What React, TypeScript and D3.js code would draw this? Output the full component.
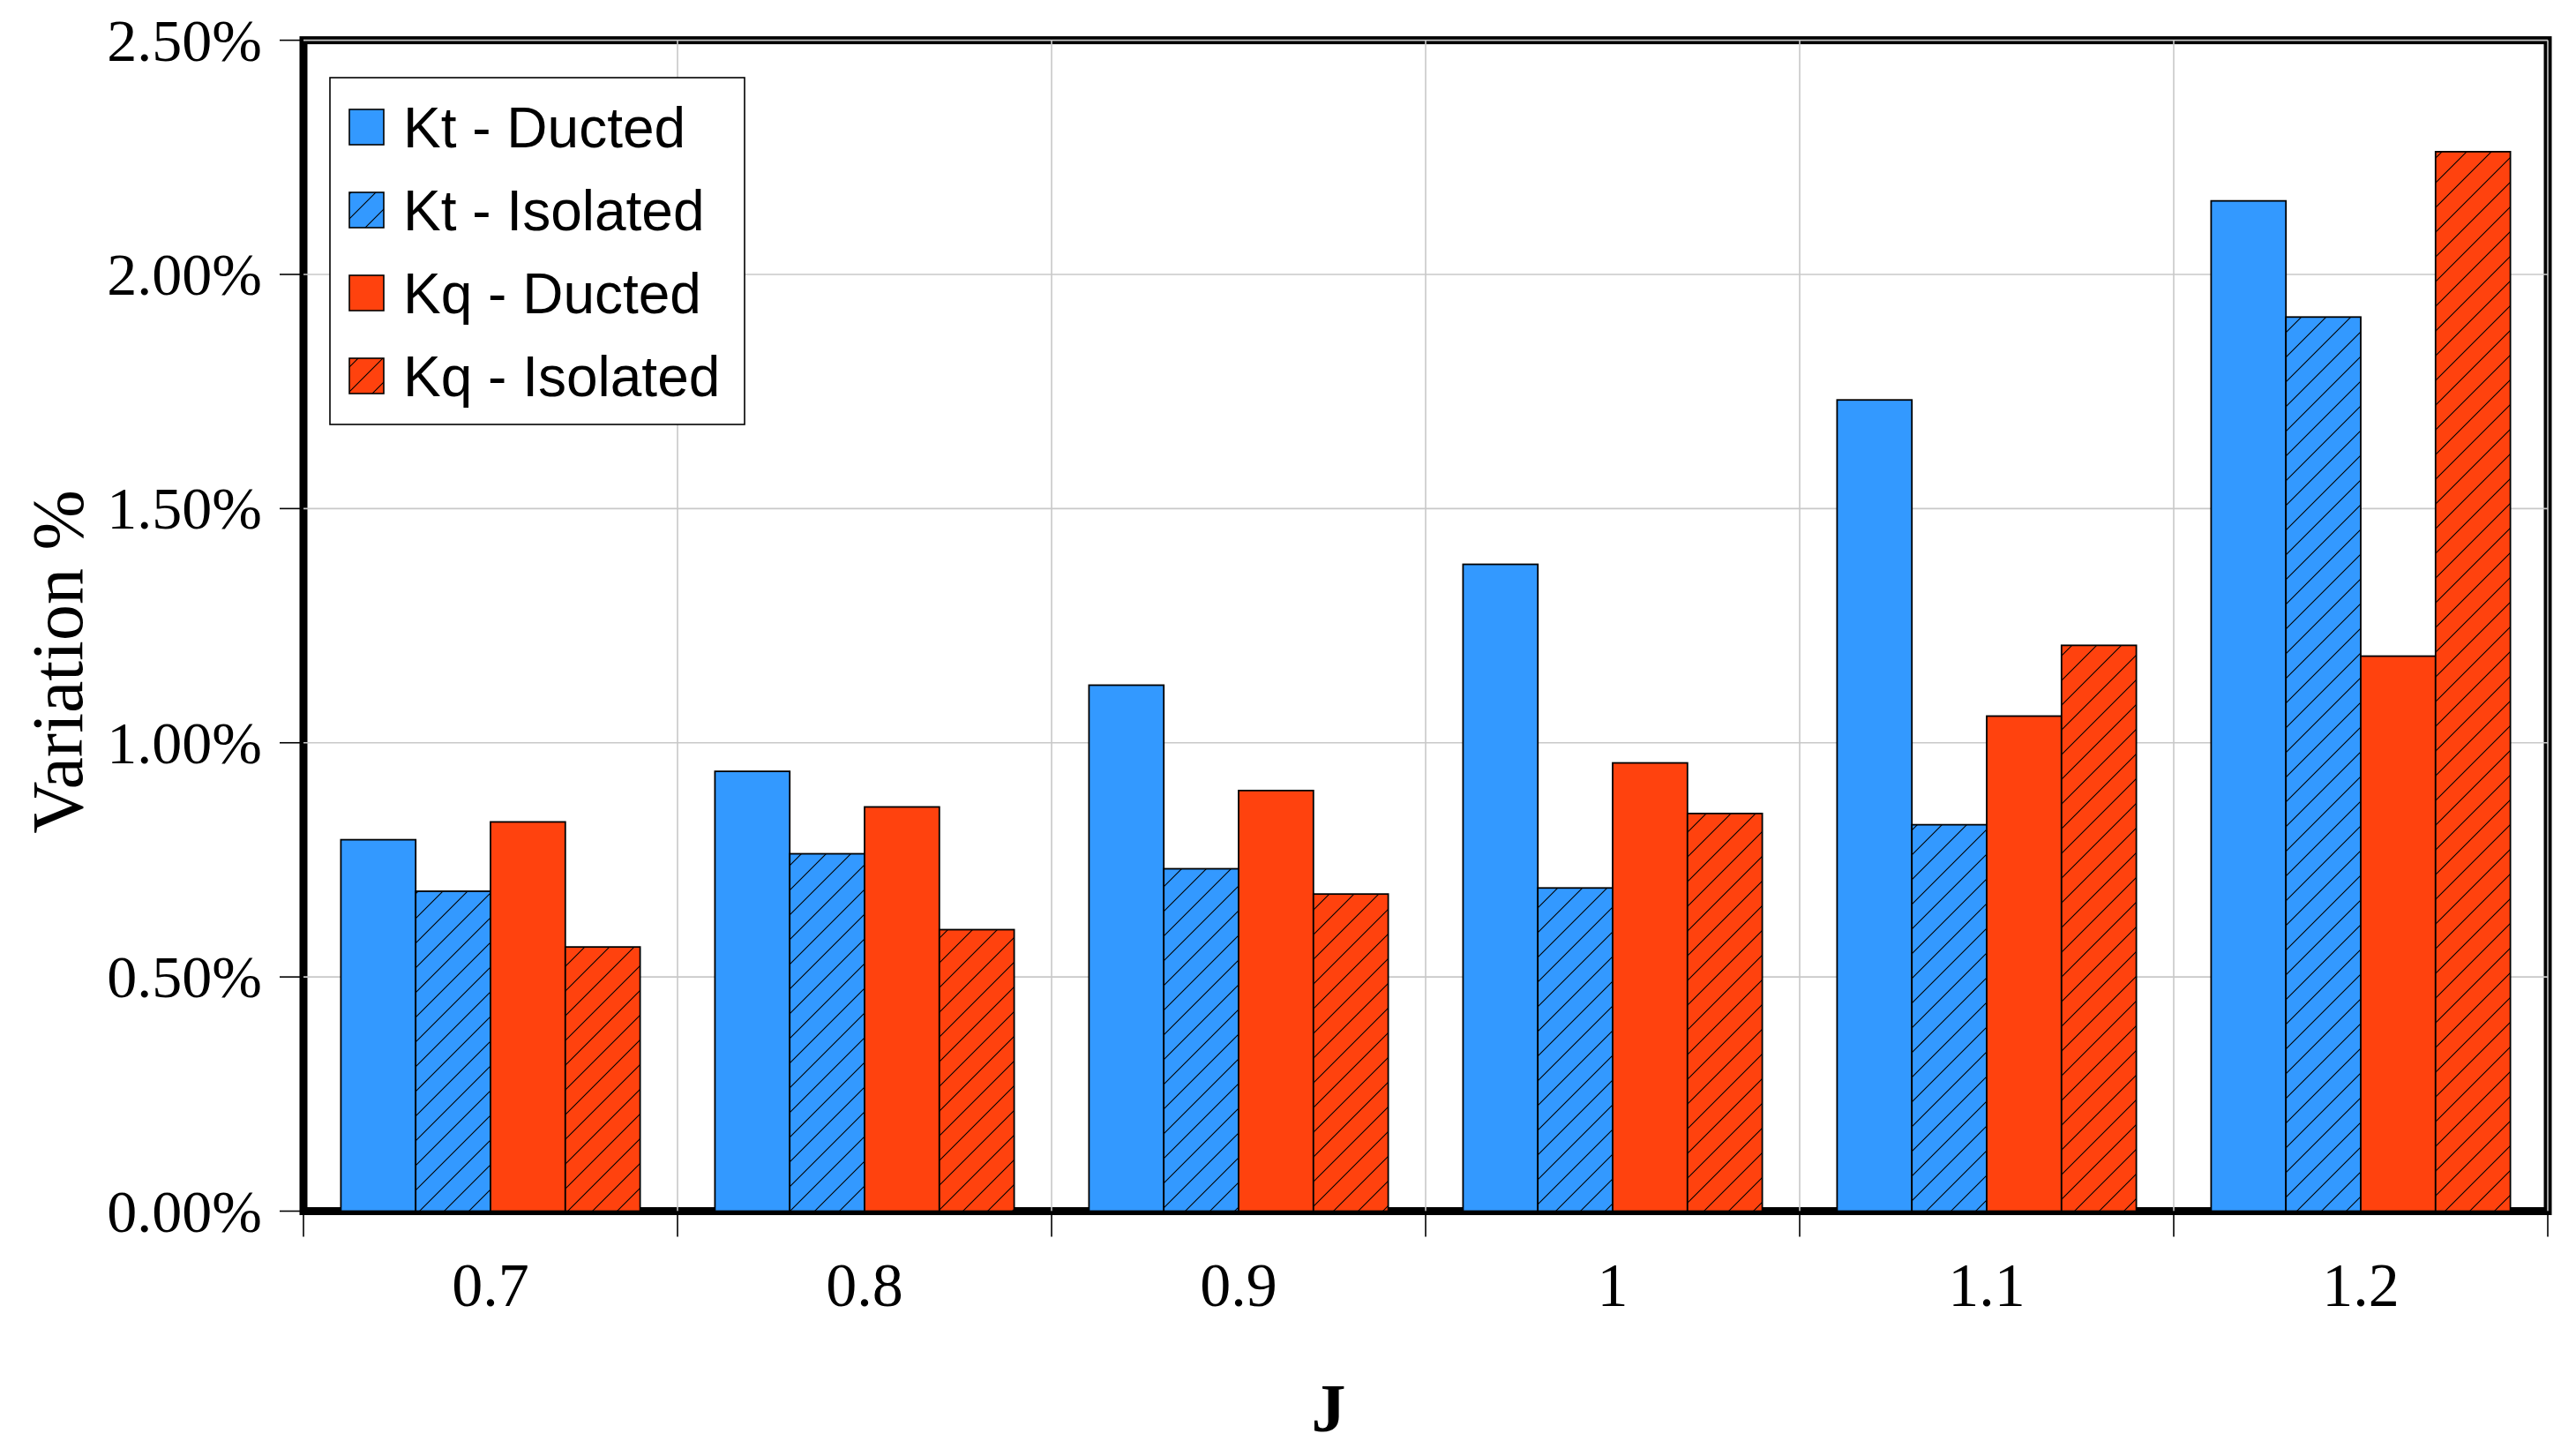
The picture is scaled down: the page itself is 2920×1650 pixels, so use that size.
import { useRef, useEffect } from 'react';
import * as d3 from 'd3';

const categories = ['0.7', '0.8', '0.9', '1', '1.1', '1.2'];
const seriesNames = ['Kt - Ducted', 'Kt - Isolated', 'Kq - Ducted', 'Kq - Isolated'];
const ktDucted = [0.793, 0.939, 1.123, 1.381, 1.732, 2.157];
const ktIsolated = [0.683, 0.763, 0.731, 0.69, 0.825, 1.909];
const kqDucted = [0.831, 0.863, 0.898, 0.957, 1.057, 1.185];
const kqIsolated = [0.564, 0.601, 0.677, 0.849, 1.208, 2.262];
const yTicks = [0, 0.5, 1, 1.5, 2, 2.5];

const BLUE = '#3399ff';
const RED = '#ff420e';
const seriesFill = [BLUE, 'url(#hatch-blue)', RED, 'url(#hatch-red)'];
const seriesValues = [ktDucted, ktIsolated, kqDucted, kqIsolated];

const SERIF = '"Liberation Serif", "Times New Roman", serif';
const SANS = '"Liberation Sans", Arial, sans-serif';

export default function App() {
  const svgRef = useRef<SVGSVGElement>(null);

  useEffect(() => {
    if (!svgRef.current) return;
    const svg = d3.select(svgRef.current);
    svg.selectAll('*').remove();

    const left = 344;
    const right = 2888;
    const top = 45.6;
    const bottom = 1372.5;

    const x = d3.scaleBand<string>().domain(categories).range([left, right]).padding(0);
    const xInner = d3
      .scaleBand<number>()
      .domain(d3.range(seriesNames.length))
      .range([0, x.bandwidth()])
      .paddingInner(0)
      .paddingOuter(0.5);
    const y = d3.scaleLinear().domain([0, 2.5]).range([bottom, top]);

    // hatch patterns
    const defs = svg.append('defs');
    [
      ['hatch-blue', BLUE],
      ['hatch-red', RED],
    ].forEach(([id, color]) => {
      const p = defs
        .append('pattern')
        .attr('id', id)
        .attr('patternUnits', 'userSpaceOnUse')
        .attr('width', 28)
        .attr('height', 28);
      p.append('rect').attr('width', 28).attr('height', 28).attr('fill', color);
      p.append('path')
        .attr('d', 'M-7,7 L7,-7 M0,28 L28,0 M21,35 L35,21')
        .attr('stroke', '#000')
        .attr('stroke-width', 1.1);
    });

    // plot frame
    svg
      .append('rect')
      .attr('x', left)
      .attr('y', top)
      .attr('width', right - left)
      .attr('height', bottom - top)
      .attr('fill', '#fff')
      .attr('stroke', '#000')
      .attr('stroke-width', 9);

    // gridlines
    const grid = svg.append('g').attr('stroke', '#c8c8c8').attr('stroke-width', 1.6);
    yTicks.slice(1).forEach((t) => {
      grid.append('line').attr('x1', left).attr('x2', right).attr('y1', y(t)).attr('y2', y(t));
    });
    categories.forEach((c) => {
      const xx = (x(c) ?? 0) + x.bandwidth();
      grid.append('line').attr('x1', xx).attr('x2', xx).attr('y1', top).attr('y2', bottom);
    });

    // bars
    categories.forEach((c, ci) => {
      seriesValues.forEach((vals, si) => {
        const v = vals[ci] ?? 0;
        svg
          .append('rect')
          .attr('x', (x(c) ?? 0) + (xInner(si) ?? 0))
          .attr('y', y(v))
          .attr('width', xInner.bandwidth())
          .attr('height', y(0) - y(v))
          .attr('fill', seriesFill[si])
          .attr('stroke', '#000')
          .attr('stroke-width', 1.8);
      });
    });

    // y ticks and labels
    yTicks.forEach((t) => {
      svg
        .append('line')
        .attr('x1', left - 27)
        .attr('x2', left)
        .attr('y1', y(t))
        .attr('y2', y(t))
        .attr('stroke', '#000')
        .attr('stroke-width', 1.6);
      svg
        .append('text')
        .attr('x', 297)
        .attr('y', y(t))
        .attr('dy', '0.34em')
        .attr('text-anchor', 'end')
        .attr('font-family', SERIF)
        .attr('font-size', 68)
        .attr('fill', '#000')
        .text(`${t.toFixed(2)}%`);
    });

    // x ticks and labels
    const bounds = [left, ...categories.map((c) => (x(c) ?? 0) + x.bandwidth())];
    bounds.forEach((bx) => {
      svg
        .append('line')
        .attr('x1', bx)
        .attr('x2', bx)
        .attr('y1', bottom)
        .attr('y2', bottom + 29)
        .attr('stroke', '#000')
        .attr('stroke-width', 1.6);
    });
    categories.forEach((c) => {
      svg
        .append('text')
        .attr('x', (x(c) ?? 0) + x.bandwidth() / 2)
        .attr('y', 1480)
        .attr('text-anchor', 'middle')
        .attr('font-family', SERIF)
        .attr('font-size', 70)
        .attr('fill', '#000')
        .text(c);
    });

    // axis titles
    svg
      .append('text')
      .attr('x', 1506)
      .attr('y', 1622)
      .attr('text-anchor', 'middle')
      .attr('font-family', SERIF)
      .attr('font-weight', 'bold')
      .attr('font-size', 78)
      .attr('fill', '#000')
      .text('J');
    svg
      .append('text')
      .attr('transform', 'translate(93,750) rotate(-90)')
      .attr('text-anchor', 'middle')
      .attr('font-family', SERIF)
      .attr('font-size', 82)
      .attr('fill', '#000')
      .text('Variation %');

    // legend
    const legend = svg.append('g');
    legend
      .append('rect')
      .attr('x', 374)
      .attr('y', 88)
      .attr('width', 470)
      .attr('height', 393)
      .attr('fill', '#fff')
      .attr('stroke', '#000')
      .attr('stroke-width', 1.6);
    seriesNames.forEach((name, i) => {
      const ty = 124 + i * 94;
      legend
        .append('rect')
        .attr('x', 396)
        .attr('y', ty)
        .attr('width', 39)
        .attr('height', 40)
        .attr('fill', seriesFill[i])
        .attr('stroke', '#000')
        .attr('stroke-width', 1.6);
      legend
        .append('text')
        .attr('x', 457)
        .attr('y', ty + 43)
        .attr('font-family', SANS)
        .attr('font-size', 64)
        .attr('fill', '#000')
        .text(name);
    });
  }, []);

  return (
    <svg
      ref={svgRef}
      width={2920}
      height={1650}
      style={{ position: 'absolute', left: 0, top: 0, background: '#fff' }}
    />
  );
}
